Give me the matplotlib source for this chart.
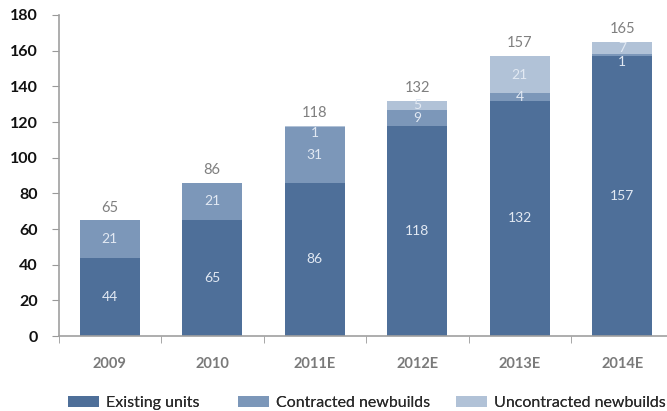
import matplotlib

matplotlib.use("Agg")
import matplotlib.pyplot as plt
import numpy as np

plt.rcParams["font.family"] = ["Lato", "DejaVu Sans"]

years = ["2009", "2010", "2011E", "2012E", "2013E", "2014E"]
existing = [44, 65, 86, 118, 132, 157]
contracted = [21, 21, 31, 9, 4, 1]
uncontracted = [0, 0, 1, 5, 21, 7]
series_names = ["Existing units", "Contracted newbuilds", "Uncontracted newbuilds"]
colors = ["#4e6f99", "#7c97b9", "#b1c2d7"]

fig = plt.figure(figsize=(6.67, 4.11), dpi=100)
ax = fig.add_axes([58.5 / 667, (411 - 336) / 411, 615 / 667, 321 / 411])

x = np.arange(len(years))
width = 0.585
bottom = np.zeros(len(years))
handles = []
for values, name, color in zip([existing, contracted, uncontracted], series_names, colors):
    vals = np.array(values, dtype=float)
    bars = ax.bar(x, vals, width, bottom=bottom, color=color, label=name)
    handles.append(bars)
    for xi, v, b in zip(x, vals, bottom):
        if v <= 0:
            continue
        # one-unit slices are too thin for text, nudge the number just below
        shift = -5 if v < 2 else 0
        ax.annotate(f"{int(v)}", (xi, b + v / 2), xytext=(0, shift),
                    textcoords="offset points", ha="center", va="center",
                    color="#e2e9f3", fontsize=10)
    bottom += vals

for xi, total in zip(x, bottom):
    ax.annotate(f"{int(total)}", (xi, total), xytext=(0, 4), textcoords="offset points",
                ha="center", va="bottom", color="#7f7f7f", fontsize=10.5)

ax.set_xlim(-0.5, len(years) - 0.5)
ax.set_ylim(0, 180)
ax.set_yticks(range(0, 181, 20))
ax.set_yticklabels([str(v) for v in range(0, 181, 20)], fontsize=11.5, fontweight="bold",
                   color="#111111")
ax.set_xticks(x)
ax.set_xticklabels(years, fontsize=10.5, fontweight="bold", color="#7a7a7a")
ax.tick_params(axis="x", length=0, pad=15)
ax.set_xticks(np.arange(-0.5, len(years), 1.0), minor=True)
ax.tick_params(axis="x", which="minor", length=5, color="#999999", direction="out")
ax.tick_params(axis="y", length=5, color="#999999", direction="out", pad=10)

for side in ["top", "right"]:
    ax.spines[side].set_visible(False)
for side in ["left", "bottom"]:
    ax.spines[side].set_color("#a0a0a0")
    ax.spines[side].set_linewidth(1.2)

# one legend per series so each key sits at its own spot along the bottom
legend_left = [68, 238, 456]
for handle, name, left in zip(handles, series_names, legend_left):
    leg = fig.legend(handles=[handle], labels=[name], loc="center left",
                     bbox_to_anchor=(left / 667, 1 - 403 / 411), frameon=False,
                     fontsize=11.5, handlelength=1.95, handleheight=0.72,
                     handletextpad=0.45, labelcolor="#2a2a2a",
                     borderaxespad=0, borderpad=0)
    fig.add_artist(leg)

fig.savefig("out.png", dpi=100)
